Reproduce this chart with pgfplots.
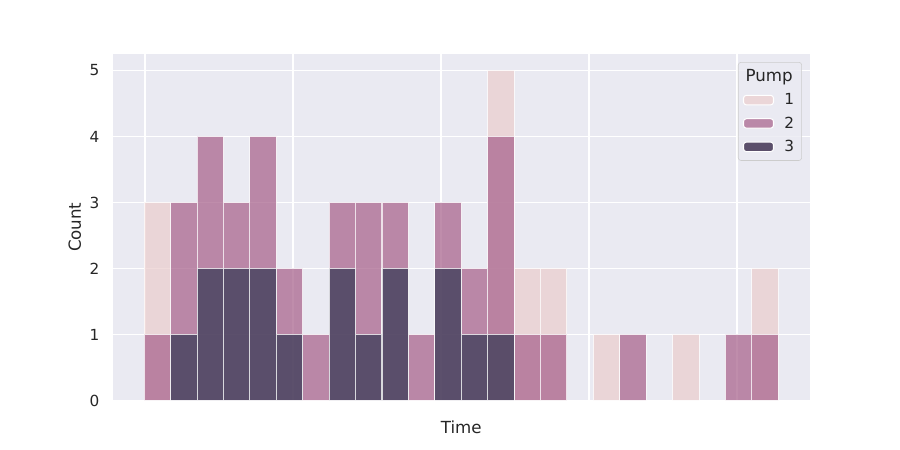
\documentclass[border=0pt]{standalone}
\usepackage{pgfplots}
\pgfplotsset{compat=1.18}
\usepackage{fontspec}
\setmainfont{DejaVu Sans}
\definecolor{bg}{HTML}{EAEAF2}
\definecolor{txt}{HTML}{262626}
\definecolor{pone}{HTML}{EBCFCF}
\definecolor{ptwo}{HTML}{AA678F}
\definecolor{pthree}{HTML}{3B3C57}
\definecolor{vone}{HTML}{EBD6D8}
\definecolor{vtwo}{HTML}{BA88A8}
\definecolor{vthree}{HTML}{5B4F6B}
\begin{document}
\begin{tikzpicture}
\path[use as bounding box] (0,0) rectangle (648pt,324pt);
\begin{axis}[
  at={(81pt,35.64pt)}, anchor=south west,
  scale only axis, width=502.2pt, height=249.48pt,
  xmin=-1.2, xmax=25.2, ymin=0, ymax=5.25,
  axis background/.style={fill=bg},
  axis line style={draw=none},
  tick style={draw=none},
  xtick={0.03,5.63,11.23,16.84,22.44},
  xticklabels={},
  ytick={0,1,2,3,4,5},
  grid=major,
  major grid style={draw=white, line width=1pt},
  /pgf/number format/assume math mode=true,
  ticklabel style={font=\fontsize{11}{13}\selectfont, text=txt},
  yticklabel style={xshift=-6pt},
  label style={font=\fontsize{12}{14}\selectfont, text=txt},
  xlabel={Time}, ylabel={Count},
  xlabel style={at={(axis description cs:0.5,0)}, anchor=north, yshift=-11pt},
  ylabel style={at={(axis description cs:0,0.5)}, anchor=south, yshift=19pt},
  legend cell align=left,
  legend style={at={(rel axis cs:1,1)}, xshift=-5.8pt, yshift=-5.8pt, anchor=north east,
    fill=bg, fill opacity=0.8, text opacity=1, draw=white!80!black,
    rounded corners=2pt, font=\fontsize{11}{13}\selectfont, text=txt,
    row sep=3.2pt, column sep=5.5pt, inner xsep=3.4pt, inner ysep=3pt},
  legend image code/.code={\fill[#1, fill opacity=1, draw opacity=1, draw=white] (0pt,-3.4pt) rectangle (21.6pt,3.4pt);},
]
\addlegendimage{empty legend}
\addlegendentry{\hspace*{-28pt}\fontsize{12}{14}\selectfont Pump}
\addlegendimage{fill=vone, draw=white, line width=0.75pt}
\addlegendentry{1}
\addlegendimage{fill=vtwo, draw=white, line width=0.75pt}
\addlegendentry{2}
\addlegendimage{fill=vthree, draw=white, line width=0.75pt}
\addlegendentry{3}
\addplot[forget plot, ybar, bar width=1, bar shift=0pt, fill=pone, draw=white, line width=0.75pt, opacity=0.75]
 coordinates {(0.5,3) (13.5,5) (14.5,2) (15.5,2) (17.5,1) (20.5,1) (23.5,2)};
\addplot[forget plot, ybar, bar width=1, bar shift=0pt, fill=ptwo, draw=white, line width=0.75pt, opacity=0.75]
 coordinates {(0.5,1) (1.5,3) (2.5,4) (3.5,3) (4.5,4) (5.5,2) (6.5,1) (7.5,3) (8.5,3) (9.5,3) (10.5,1) (11.5,3) (12.5,2) (13.5,4) (14.5,1) (15.5,1) (18.5,1) (22.5,1) (23.5,1)};
\addplot[forget plot, ybar, bar width=1, bar shift=0pt, fill=pthree, draw=white, line width=0.75pt, opacity=0.75]
 coordinates {(1.5,1) (2.5,2) (3.5,2) (4.5,2) (5.5,1) (7.5,2) (8.5,1) (9.5,2) (11.5,2) (12.5,1) (13.5,1)};
\end{axis}
\end{tikzpicture}
\end{document}
